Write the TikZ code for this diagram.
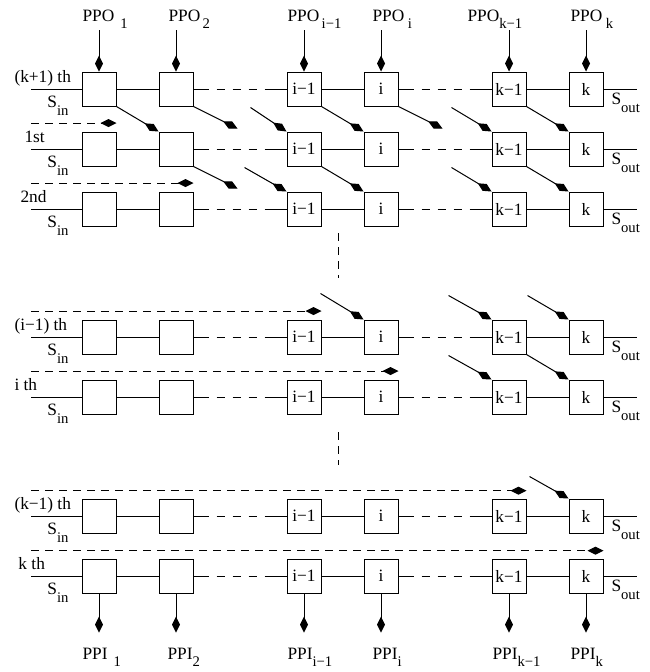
\documentclass[tikz,border=0pt]{standalone}
\usepackage{fontspec}
\setmainfont{Liberation Serif}
\usetikzlibrary{arrows.meta}

\newcommand{\lowsub}[1]{\raisebox{-5.5pt}{\fontsize{11}{11}\selectfont #1}}

\tikzset{
  cell/.style={draw, minimum size=25.5pt, inner sep=0pt},
  feed/.style={-{Kite[length=12pt,width=6pt,inset=6pt]}},
  fedin/.style={{Kite[length=12pt,width=6pt,inset=6pt]}-},
  scan/.style={dash pattern=on 6pt off 4.5pt},
  gapline/.style={dash pattern=on 11.25pt off 6pt on 6pt off 6pt on 6pt off 6pt on 6pt off 6pt on 40pt},
  lbl/.style={inner sep=0pt}
}

\begin{document}
\begin{tikzpicture}[x=0.75pt, y=-0.75pt, line width=0.75pt,
  every node/.style={font=\fontsize{13}{15}\selectfont}]
  \useasboundingbox (0,0) rectangle (650,672);

  % the seven scan chains
  \foreach \r/\y in {1/89,2/149,3/209,4/337,5/397,6/516,7/576} {
    \coordinate (s\r) at (31,\y);
    \coordinate (e\r) at (637,\y);
    \foreach \c/\x/\t in {1/99/,2/176/,3/304/i−1,4/381/i,5/509/k−1,6/586/k}
      \node[cell] (b\r\c) at (\x,\y) {\t};
    \draw (s\r) -- (b\r1) -- (b\r2);
    \draw[gapline] (b\r2) -- (b\r3);
    \draw (b\r3) -- (b\r4);
    \draw[gapline] (b\r4) -- (b\r5);
    \draw (b\r5) -- (b\r6) -- (e\r);
    \node[lbl, anchor=north west] (sin\r) at (47,\y+7) {S\lowsub{in}};
    \node[lbl, anchor=north west] (sout\r) at (611,\y+4) {S\lowsub{out}};
  }

  \node[lbl, anchor=base west] (n1) at (14,82) {(k+1) th};
  \node[lbl, anchor=base west] (n2) at (24,142) {1st};
  \node[lbl, anchor=base west] (n3) at (20,202) {2nd};
  \node[lbl, anchor=base west] (n4) at (14,330) {(i−1) th};
  \node[lbl, anchor=base west] (n5) at (14,390) {i th};
  \node[lbl, anchor=base west] (n6) at (14,509) {(k−1) th};
  \node[lbl, anchor=base west] (n7) at (18,569) {k th};

  % parallel outputs on top
  \node[lbl, anchor=base west] (po1) at (82,21) {PPO\lowsub{\ \,1}};
  \node[lbl, anchor=base west] (po2) at (168,21) {PPO\lowsub{\,2}};
  \node[lbl, anchor=base west] (po3) at (287,21) {PPO\lowsub{\,i−1}};
  \node[lbl, anchor=base west] (po4) at (372,21) {PPO\lowsub{\ i}};
  \node[lbl, anchor=base west] (po5) at (467,21) {PPO\lowsub{k−1}};
  \node[lbl, anchor=base west] (po6) at (570,21) {PPO\lowsub{\ k}};
  \foreach \c in {1,...,6}
    \draw[fedin] (b1\c.north) -- ++(0,-42);

  % parallel inputs at the bottom
  \foreach \c in {1,...,6}
    \draw[feed] (b7\c.south) -- ++(0,39);
  \node[lbl, anchor=base west] (pi1) at (82,659) {PPI\lowsub{\ \,1}};
  \node[lbl, anchor=base west] (pi2) at (167,659) {PPI\lowsub{2}};
  \node[lbl, anchor=base west] (pi3) at (287,659) {PPI\lowsub{i−1}};
  \node[lbl, anchor=base west] (pi4) at (372,659) {PPI\lowsub{i}};
  \node[lbl, anchor=base west] (pi5) at (492,659) {PPI\lowsub{k−1}};
  \node[lbl, anchor=base west] (pi6) at (570,659) {PPI\lowsub{k}};

  % shifted loading
  \draw[feed] (b11.south east) -- (b22.north west);
  \draw[feed] (b12.south east) -- ++(44,22);
  \draw[fedin] (b23.north west) -- ++(-36,-24);
  \draw[feed] (b13.south east) -- (b24.north west);
  \draw[feed] (b14.south east) -- ++(44,22);
  \draw[fedin] (b25.north west) -- ++(-40,-24);
  \draw[feed] (b15.south east) -- (b26.north west);

  \draw[feed] (b22.south east) -- ++(44,22);
  \draw[fedin] (b33.north west) -- ++(-42,-24);
  \draw[feed] (b23.south east) -- (b34.north west);
  \draw[fedin] (b35.north west) -- ++(-40,-24);
  \draw[feed] (b25.south east) -- (b36.north west);

  \draw[fedin] (b44.north west) -- ++(-43,-26);
  \draw[fedin] (b45.north west) -- ++(-43,-24);
  \draw[fedin] (b46.north west) -- ++(-41,-24);
  \draw[fedin] (b55.north west) -- ++(-43,-24);
  \draw[feed] (b45.south east) -- (b56.north west);
  \draw[fedin] (b66.north west) -- ++(-39,-22);

  % scan-in paths
  \draw[scan, feed] ([yshift=19.5pt]s2) -- ([yshift=19.5pt]b21.east);
  \draw[scan, feed] ([yshift=19.5pt]s3) -- ([yshift=19.5pt]b32.east);
  \draw[scan, feed] ([yshift=19.5pt]s4) -- ([yshift=19.5pt]b43.east);
  \draw[scan, feed] ([yshift=19.5pt]s5) -- ([yshift=19.5pt]b54.east);
  \draw[scan, feed] ([yshift=19pt]s6) -- ([yshift=19pt]b65.east);
  \draw[scan, feed] ([yshift=19pt]s7) -- ([yshift=19pt]b76.east);

  \draw[scan] (338,233) -- (338,278);
  \draw[scan] (338,432) -- (338,465);
\end{tikzpicture}
\end{document}
